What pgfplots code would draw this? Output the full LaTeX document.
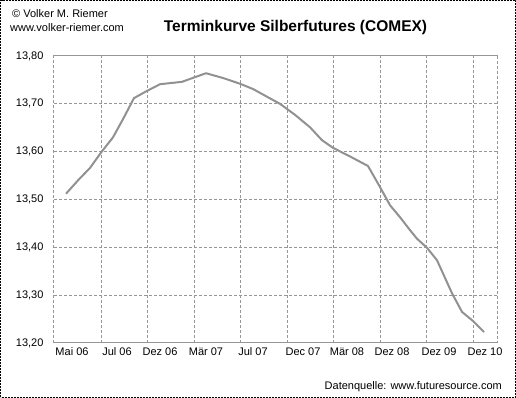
\documentclass[border=0pt]{standalone}
\usepackage{fontspec}
\setmainfont{Liberation Sans}
\usepackage{pgfplots}
\pgfplotsset{compat=1.18}
\definecolor{gridgray}{RGB}{150,150,150}
\definecolor{linegray}{RGB}{145,145,145}
\begin{document}
\begin{tikzpicture}[x=1pt,y=1pt]
\useasboundingbox (0,0) rectangle (516,398);
\draw[black, line width=1pt, dash pattern=on 2pt off 1pt] (0.5,0.5) rectangle (515.5,397.5);
\begin{axis}[at={(54pt,55pt)}, anchor=south west, scale only axis,
  width=443pt, height=287pt,
  xmin=54, xmax=497, ymin=13.2, ymax=13.8,
  xtick={72,117,160,206,253,303,347,392,439,485},
  xticklabels={Mai 06,Jul 06,Dez 06,Mär 07,Jul 07,Dec 07,Mär 08,Dez 08,Dez 09,Dez 10},
  minor xtick={101,147,194,240,287,333,380,426,473},
  ytick={13.2,13.3,13.4,13.5,13.6,13.7,13.8},
  xminorgrids, ymajorgrids,
  major tick length=0pt, minor tick length=0pt,
  grid style={gridgray, line width=1pt, dash pattern=on 3pt off 2pt},
  minor grid style={gridgray, line width=1pt, dash pattern=on 3pt off 2pt},
  axis line style={draw=gridgray, line width=1pt, dash pattern=on 3pt off 2pt},
  tick label style={font=\fontsize{11}{13}\selectfont},
  /pgf/number format/assume math mode=true,
  yticklabel style={/pgf/number format/fixed, /pgf/number format/fixed zerofill,
    /pgf/number format/precision=2, /pgf/number format/use comma, xshift=-7pt},
  xticklabel style={yshift=-1pt},
  clip=false,
]
\addplot[linegray, line width=2pt, line join=round] coordinates {
(66,13.512) (78,13.540) (90,13.566) (101,13.598) (113,13.630) (123,13.668)
(134,13.712) (147,13.727) (160,13.741) (182,13.746) (194,13.755) (206,13.764)
(223,13.754) (240,13.742) (253,13.731) (266,13.716) (280,13.700) (295,13.677)
(310,13.651) (322,13.624) (333,13.608) (350,13.590) (368,13.570) (380,13.526)
(390,13.488) (400,13.463) (410,13.436) (417,13.418) (427,13.399) (437,13.373)
(452,13.304) (462,13.265) (473,13.246) (484,13.223)
};
\end{axis}
\node[anchor=base west, inner sep=0pt, font=\fontsize{11}{13}\selectfont] at (12,380) {© Volker M. Riemer};
\node[anchor=base west, inner sep=0pt, font=\fontsize{11}{13}\selectfont] at (10,366) {www.volker-riemer.com};
\node[anchor=base, inner sep=0pt, font=\fontsize{15.5}{18}\selectfont\bfseries] at (295.5,366) {Terminkurve Silberfutures (COMEX)};
\node[anchor=base east, inner sep=0pt, font=\fontsize{11}{13}\selectfont] at (502,8) {Datenquelle: www.futuresource.com};
\end{tikzpicture}
\end{document}
